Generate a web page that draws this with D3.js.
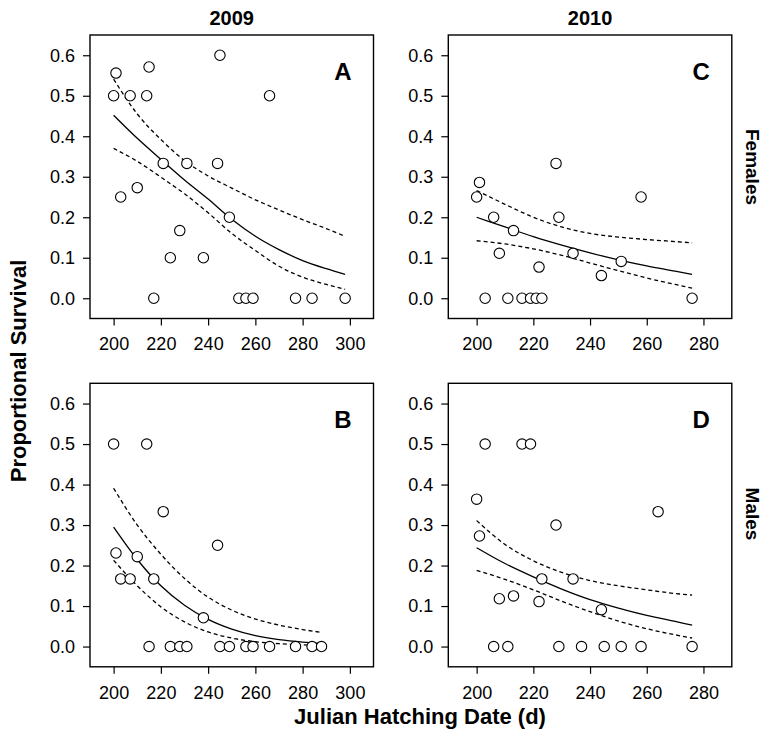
<!DOCTYPE html>
<html>
<head>
<meta charset="utf-8">
<script src="https://cdn.jsdelivr.net/npm/d3@7"></script>
<style>
  body { margin: 0; background: #fff; }
  svg { display: block; font-family: Arial, "Liberation Sans", sans-serif; }
</style>
</head>
<body>
<svg id="chart" width="764" height="736"></svg>
<script>
//-- DATA --\\
var years = ["2009", "2010"];
var sexes = ["Females", "Males"];
var yTicks = [0, 0.1, 0.2, 0.3, 0.4, 0.5, 0.6];
var xTicks2009 = [200, 220, 240, 260, 280, 300];
var xTicks2010 = [200, 220, 240, 260, 280];

// A: 2009 females
var aDate = [200, 201, 203, 207, 210, 214, 215, 217, 221, 224, 228, 231, 238, 244, 245, 249, 253, 256, 259, 266, 277, 284, 298];
var aSurv = [0.5, 0.556, 0.25, 0.5, 0.273, 0.5, 0.571, 0, 0.333, 0.1, 0.167, 0.333, 0.1, 0.333, 0.6, 0.2, 0, 0, 0, 0.5, 0, 0, 0];
var aFitX = [200, 210, 220, 230, 240, 250, 260, 270, 280, 290, 298];
var aFit  = [0.452, 0.395, 0.343, 0.292, 0.245, 0.195, 0.153, 0.120, 0.093, 0.073, 0.059];
var aHigh = [0.541, 0.455, 0.392, 0.340, 0.302, 0.272, 0.243, 0.218, 0.194, 0.172, 0.153];
var aLow  = [0.370, 0.338, 0.299, 0.258, 0.211, 0.160, 0.118, 0.079, 0.052, 0.034, 0.022];

// B: 2009 males
var bDate = [200, 201, 203, 207, 210, 214, 215, 217, 221, 224, 228, 231, 238, 244, 245, 249, 256, 259, 266, 277, 284, 288];
var bSurv = [0.5, 0.231, 0.167, 0.167, 0.222, 0.5, 0, 0.167, 0.333, 0, 0, 0, 0.071, 0.25, 0, 0, 0, 0, 0, 0, 0, 0];
var bFitX = [200, 210, 220, 230, 240, 250, 260, 270, 280, 288];
var bFit  = [0.295, 0.215, 0.150, 0.102, 0.067, 0.043, 0.027, 0.017, 0.011, 0.008];
var bHigh = [0.391, 0.300, 0.228, 0.168, 0.122, 0.090, 0.068, 0.053, 0.042, 0.035];
var bLow  = [0.213, 0.150, 0.098, 0.061, 0.036, 0.021, 0.012, 0.007, 0.004, 0.003];

// C: 2010 females
var cDate = [200, 201, 203, 206, 208, 211, 213, 216, 219, 221, 222, 223, 228, 229, 234, 244, 251, 258, 276];
var cSurv = [0.25, 0.286, 0, 0.2, 0.111, 0, 0.167, 0, 0, 0, 0.077, 0, 0.333, 0.2, 0.111, 0.056, 0.091, 0.25, 0];
var cFitX = [200, 210, 220, 230, 240, 250, 260, 270, 276];
var cFit  = [0.200, 0.176, 0.152, 0.131, 0.112, 0.095, 0.080, 0.067, 0.059];
var cHigh = [0.266, 0.232, 0.200, 0.176, 0.160, 0.151, 0.145, 0.140, 0.137];
var cLow  = [0.142, 0.134, 0.122, 0.106, 0.087, 0.068, 0.050, 0.034, 0.025];

// D: 2010 males
var dDate = [200, 201, 203, 206, 208, 211, 213, 216, 219, 222, 223, 228, 229, 234, 237, 244, 245, 251, 258, 264, 276];
var dSurv = [0.364, 0.273, 0.5, 0, 0.118, 0, 0.125, 0.5, 0.5, 0.111, 0.167, 0.3, 0, 0.167, 0, 0.091, 0, 0, 0, 0.333, 0];
var dFitX = [200, 210, 220, 230, 240, 250, 260, 270, 276];
var dFit  = [0.244, 0.205, 0.172, 0.142, 0.116, 0.095, 0.077, 0.062, 0.053];
var dHigh = [0.311, 0.252, 0.212, 0.183, 0.163, 0.150, 0.140, 0.131, 0.127];
var dLow  = [0.188, 0.166, 0.140, 0.112, 0.086, 0.063, 0.044, 0.029, 0.021];

//-- LAYOUT --\\
var colLeft = [90, 448.3];
var rowTop = [35, 383.3];
var panelW = 283.5;
var panelH = 283.5;
var tickFont = "18px";

var panels = [
  {letter: "A", col: 0, row: 0, date: aDate, surv: aSurv, fx: aFitX, fit: aFit, hi: aHigh, lo: aLow, xd: [190, 310], ticks: xTicks2009},
  {letter: "C", col: 1, row: 0, date: cDate, surv: cSurv, fx: cFitX, fit: cFit, hi: cHigh, lo: cLow, xd: [190, 290], ticks: xTicks2010},
  {letter: "B", col: 0, row: 1, date: bDate, surv: bSurv, fx: bFitX, fit: bFit, hi: bHigh, lo: bLow, xd: [190, 310], ticks: xTicks2009},
  {letter: "D", col: 1, row: 1, date: dDate, surv: dSurv, fx: dFitX, fit: dFit, hi: dHigh, lo: dLow, xd: [190, 290], ticks: xTicks2010}
];

var svg = d3.select("#chart");

panels.forEach(function (p) {
  var g = svg.append("g")
    .attr("transform", "translate(" + colLeft[p.col] + "," + rowTop[p.row] + ")");

  var x = d3.scaleLinear().domain(p.xd).range([0, panelW]);
  var y = d3.scaleLinear().domain([-0.05, 0.65]).range([panelH, 0]);

  // axes (frame box drawn separately)
  var xa = g.append("g")
    .attr("transform", "translate(0," + panelH + ")")
    .call(d3.axisBottom(x).tickValues(p.ticks).tickSize(7).tickPadding(12).tickFormat(d3.format("d")));
  var ya = g.append("g")
    .call(d3.axisLeft(y).tickValues(yTicks).tickSize(7).tickPadding(8).tickFormat(d3.format(".1f")));
  [xa, ya].forEach(function (a) {
    a.select(".domain").remove();
    a.selectAll("line").attr("stroke", "#000").attr("stroke-width", 1.2);
    a.selectAll("text").attr("fill", "#000").style("font-size", tickFont)
      .style("font-family", "Arial, 'Liberation Sans', sans-serif");
  });

  // fitted curve and confidence bands
  var line = d3.line()
    .x(function (d) { return x(d[0]); })
    .y(function (d) { return y(d[1]); })
    .curve(d3.curveMonotoneX);

  [[p.hi, "4,3"], [p.lo, "4,3"], [p.fit, null]].forEach(function (s) {
    g.append("path")
      .datum(d3.zip(p.fx, s[0]))
      .attr("d", line)
      .attr("fill", "none")
      .attr("stroke", "#000")
      .attr("stroke-width", 1.3)
      .attr("stroke-dasharray", s[1]);
  });

  // observed points
  g.selectAll("circle")
    .data(d3.zip(p.date, p.surv))
    .enter().append("circle")
    .attr("cx", function (d) { return x(d[0]); })
    .attr("cy", function (d) { return y(d[1]); })
    .attr("r", 5.2)
    .attr("fill", "#fff")
    .attr("stroke", "#000")
    .attr("stroke-width", 1.1);

  g.append("rect")
    .attr("width", panelW).attr("height", panelH)
    .attr("fill", "none").attr("stroke", "#000").attr("stroke-width", 1.4);

  g.append("text")
    .attr("x", panelW - 22).attr("y", 45)
    .attr("text-anchor", "end")
    .style("font-size", "24px").style("font-weight", "bold")
    .text(p.letter);
});

// column titles
years.forEach(function (yr, i) {
  svg.append("text")
    .attr("x", colLeft[i] + panelW / 2).attr("y", 25)
    .attr("text-anchor", "middle")
    .style("font-size", "20px").style("font-weight", "bold")
    .text(yr);
});

// row titles
var rowMid = [167, 514];
sexes.forEach(function (s, i) {
  svg.append("text")
    .attr("transform", "translate(752," + rowMid[i] + ") rotate(90)")
    .attr("text-anchor", "middle")
    .attr("dominant-baseline", "central")
    .style("font-size", "19px").style("font-weight", "bold")
    .text(s);
});

svg.append("text")
  .attr("transform", "translate(18,371) rotate(-90)")
  .attr("text-anchor", "middle")
  .attr("dominant-baseline", "central")
  .style("font-size", "22px").style("font-weight", "bold")
  .text("Proportional Survival");

svg.append("text")
  .attr("x", 420).attr("y", 724)
  .attr("text-anchor", "middle")
  .style("font-size", "22px").style("font-weight", "bold")
  .text("Julian Hatching Date (d)");
</script>
</body>
</html>
